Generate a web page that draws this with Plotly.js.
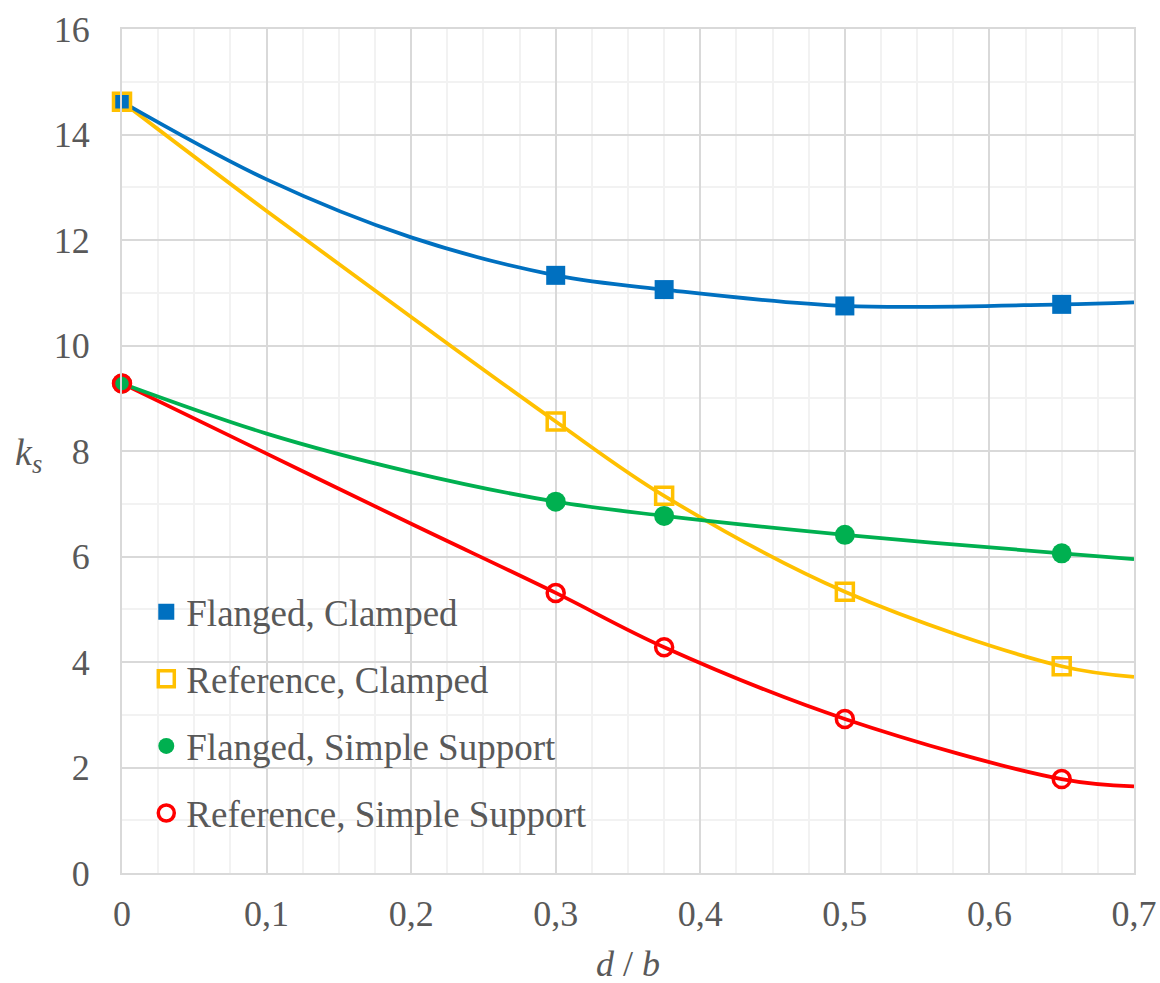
<!DOCTYPE html>
<html>
<head>
<meta charset="utf-8">
<script src="https://cdn.plot.ly/plotly-3.0.1.min.js"></script>
<style>html,body{margin:0;padding:0;background:#fff;}#chart{width:1160px;height:983px;}</style>
</head>
<body>
<div id="chart"></div>
<script>
// Data (markers)
var xPts = [0, 0.3, 0.375, 0.5, 0.65];
var flangedClamped = [14.62, 11.33, 11.06, 10.75, 10.78];
var referenceClamped = [14.62, 8.56, 7.15, 5.33, 3.92];
var flangedSimple = [9.28, 7.04, 6.77, 6.41, 6.06];
var referenceSimple = [9.28, 5.31, 4.28, 2.92, 1.78];

// Smoothed curves, values
var xLine = [0, 0.1, 0.2, 0.3, 0.375, 0.5, 0.65, 0.7];
var flangedClampedLine = [14.62, 13.15, 12.05, 11.33, 11.06, 10.75, 10.78, 10.82];
var referenceClampedLine = [14.62, 12.55, 10.54, 8.56, 7.15, 5.33, 3.92, 3.72];
var flangedSimpleLine = [9.28, 8.33, 7.6, 7.04, 6.77, 6.41, 6.06, 5.95];
var referenceSimpleLine = [9.28, 7.95, 6.62, 5.31, 4.28, 2.92, 1.78, 1.64];

var seriesNames = ["Flanged, Clamped", "Reference, Clamped", "Flanged, Simple Support", "Reference, Simple Support"];

var colors = ["#0070C0", "#FFC000", "#00B050", "#FF0000"];
var serif = "'Liberation Serif', 'Times New Roman', serif";
var textColor = "#595959";

function lineTrace(y, c) {
  return {x: xLine, y: y, mode: "lines", type: "scatter", showlegend: false, hoverinfo: "skip",
    line: {color: c, width: 3.75, shape: "spline", smoothing: 1}};
}

var traces = [
  lineTrace(referenceClampedLine, colors[1]),
  lineTrace(referenceSimpleLine, colors[3]),
  lineTrace(flangedSimpleLine, colors[2]),
  lineTrace(flangedClampedLine, colors[0]),
  {x: xPts, y: flangedClamped, name: seriesNames[0], legendgroup: "a", mode: "markers", type: "scatter", cliponaxis: false,
    marker: {symbol: "square", size: 19, color: colors[0]}},
  {x: xPts, y: referenceClamped, name: seriesNames[1], legendgroup: "b", mode: "markers", type: "scatter", cliponaxis: false,
    marker: {symbol: "square-open", size: 17, color: colors[1], line: {width: 3.5, color: colors[1]}}},
  {x: xPts, y: flangedSimple, name: seriesNames[2], legendgroup: "c", mode: "markers", type: "scatter", cliponaxis: false,
    marker: {symbol: "circle", size: 20, color: colors[2]}},
  {x: xPts, y: referenceSimple, name: seriesNames[3], legendgroup: "d", mode: "markers", type: "scatter", cliponaxis: false,
    marker: {symbol: "circle-open", size: 17, color: colors[3], line: {width: 3.5, color: colors[3]}}}
];

var layout = {
  width: 1160, height: 983,
  margin: {l: 122, r: 26, t: 29, b: 110},
  paper_bgcolor: "#ffffff", plot_bgcolor: "#ffffff",
  separators: ", ",
  font: {family: serif, color: textColor, size: 36},
  showlegend: true,
  legend: {x: 0.024, y: 0.19, xanchor: "left", yanchor: "middle", bgcolor: "rgba(0,0,0,0)",
    font: {family: serif, size: 37, color: textColor}, traceorder: "grouped", tracegroupgap: 16,
    itemsizing: "trace"},
  xaxis: {range: [0, 0.7], tick0: 0, dtick: 0.1, showgrid: true, gridcolor: "#d9d9d9", gridwidth: 2,
    zeroline: false, showline: true, linecolor: "#d9d9d9", linewidth: 2, mirror: true,
    ticks: "", ticklabelstandoff: 8,
    tickfont: {family: serif, size: 36, color: textColor},
    minor: {dtick: 0.025, showgrid: true, gridcolor: "#f2f2f2", gridwidth: 2}},
  yaxis: {range: [0, 16], tick0: 0, dtick: 2, showgrid: true, gridcolor: "#d9d9d9", gridwidth: 2,
    zeroline: false, showline: true, linecolor: "#d9d9d9", linewidth: 2, mirror: true,
    ticks: "", ticklabelstandoff: 23,
    tickfont: {family: serif, size: 36, color: textColor},
    minor: {dtick: 1, showgrid: true, gridcolor: "#f2f2f2", gridwidth: 2}},
  annotations: [
    {text: "<i>d</i> / <i>b</i>", xref: "paper", yref: "paper", x: 0.5, y: -0.108, xanchor: "center", yanchor: "middle",
      showarrow: false, font: {family: serif, size: 36, color: textColor}},
    {text: "<i>k<sub>s</sub></i>", xref: "paper", yref: "paper", x: -0.092, y: 0.495, xanchor: "center", yanchor: "middle",
      showarrow: false, font: {family: serif, size: 38, color: textColor}}
  ]
};

Plotly.newPlot("chart", traces, layout, {displayModeBar: false, staticPlot: true});
</script>
</body>
</html>
